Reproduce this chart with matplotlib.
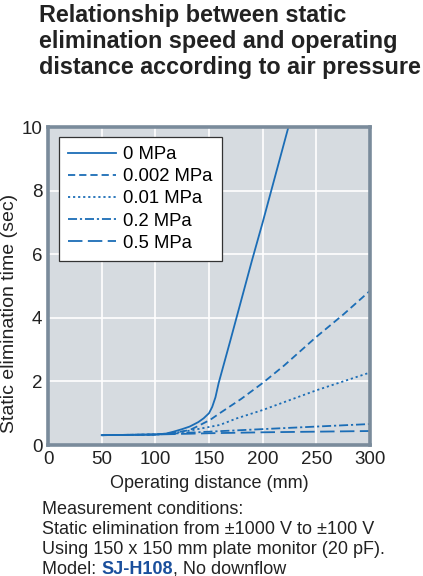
import matplotlib

matplotlib.use("Agg")
import matplotlib.pyplot as plt
import numpy as np

plt.rcParams["font.family"] = ["Liberation Sans", "DejaVu Sans"]

LINE = "#1b6db6"
FACE = "#d6dbe0"
FRAME = "#7a8b9b"
TXT = "#222222"

# operating distance (mm) and static elimination time (sec) per air pressure
x_0 = [50, 80, 100, 110, 117, 125, 132, 140, 145, 150, 153, 156, 159, 170, 180, 190, 200, 210, 224]
y_0 = [0.31, 0.32, 0.33, 0.36, 0.42, 0.5, 0.58, 0.72, 0.84, 1.0, 1.2, 1.5, 1.95, 3.3, 4.55, 5.8,
       7.0, 8.25, 10.0]

x_002 = [50, 100, 110, 120, 132, 140, 151, 160, 180, 200, 220, 250, 275, 300]
y_002 = [0.31, 0.33, 0.35, 0.4, 0.47, 0.6, 0.79, 1.0, 1.45, 1.95, 2.5, 3.4, 4.1, 4.85]

x_01 = [50, 100, 115, 130, 160, 176, 200, 250, 300]
y_01 = [0.31, 0.33, 0.37, 0.44, 0.63, 0.84, 1.1, 1.72, 2.28]

x_2 = [50, 100, 150, 200, 250, 300]
y_2 = [0.31, 0.33, 0.42, 0.5, 0.58, 0.66]

x_5 = [50, 100, 150, 200, 250, 300]
y_5 = [0.31, 0.33, 0.37, 0.4, 0.42, 0.44]

labels = ["0 MPa", "0.002 MPa", "0.01 MPa", "0.2 MPa", "0.5 MPa"]
styles = ["-", (0, (4, 2.2)), (0, (1.2, 1.6)), (0, (5, 1.6, 1.2, 1.6)), (0, (8, 3))]

x_ticks = [0, 50, 100, 150, 200, 250, 300]
y_ticks = [0, 2, 4, 6, 8, 10]


def main() -> None:
    fig = plt.figure(figsize=(4.23, 5.76), dpi=100)
    ax = fig.add_axes([0.1135, 0.2274, 0.7612, 0.5521])
    ax.set_facecolor(FACE)

    series = [(x_0, y_0), (x_002, y_002), (x_01, y_01), (x_2, y_2), (x_5, y_5)]
    for (xs, ys), lab, ls in zip(series, labels, styles):
        ax.plot(xs, ys, color=LINE, lw=1.3, linestyle=ls, label=lab)

    ax.set_xlim(0, 300)
    ax.set_ylim(0, 10)
    ax.set_xticks(x_ticks)
    ax.set_yticks(y_ticks)
    ax.grid(True, color="white", lw=1.2)
    ax.set_axisbelow(True)
    ax.tick_params(length=0, labelsize=13.5, colors=TXT)
    ax.tick_params(axis="x", pad=4)
    ax.tick_params(axis="y", pad=4)
    for s in ax.spines.values():
        s.set_color(FRAME)
        s.set_linewidth(2.6)

    ax.set_xlabel("Operating distance (mm)", fontsize=13, color=TXT)
    ax.xaxis.set_label_coords(0.5, -0.095)
    ax.set_ylabel("Static elimination time (sec)", fontsize=14, color=TXT)
    ax.yaxis.set_label_coords(-0.093, 0.415)

    leg = ax.legend(loc="upper left", bbox_to_anchor=(0.034, 0.969), fontsize=13.3,
                    handlelength=2.6, frameon=True, fancybox=False, borderpad=0.5,
                    labelspacing=0.28, handletextpad=0.38, borderaxespad=0)
    leg.get_frame().set_edgecolor("#333333")
    leg.get_frame().set_facecolor("white")
    leg.get_frame().set_alpha(1)
    leg.get_frame().set_linewidth(0.9)

    title = "Relationship between static\nelimination speed and operating\ndistance according to air pressure"
    fig.text(0.093, 0.993, title, fontsize=16.8, fontweight="bold", va="top", ha="left",
             linespacing=1.17, color=TXT)

    notes = ["Measurement conditions:",
             "Static elimination from \u00b11000 V to \u00b1100 V",
             "Using 150 x 150 mm plate monitor (20 pF)."]
    y0 = 1 - 509 / 576
    dy = 20 / 576
    fs = 13
    for i, t in enumerate(notes):
        fig.text(0.1, y0 - i * dy, t, fontsize=fs, va="center", ha="left", color=TXT)
    yl = y0 - 3 * dy
    t1 = fig.text(0.1, yl, "Model: ", fontsize=fs, va="center", ha="left", color=TXT)
    fig.canvas.draw()
    r = fig.canvas.get_renderer()
    bb = t1.get_window_extent(r)
    t2 = fig.text(bb.x1 / fig.bbox.width, yl, "SJ-H108", fontsize=fs, fontweight="bold",
                  va="center", ha="left", color="#1a4f9c")
    bb2 = t2.get_window_extent(r)
    fig.text(bb2.x1 / fig.bbox.width, yl, ", No downflow", fontsize=fs, va="center", ha="left",
             color=TXT)

    fig.savefig("out.png", dpi=100)
    plt.close(fig)


if __name__ == "__main__":
    main()
